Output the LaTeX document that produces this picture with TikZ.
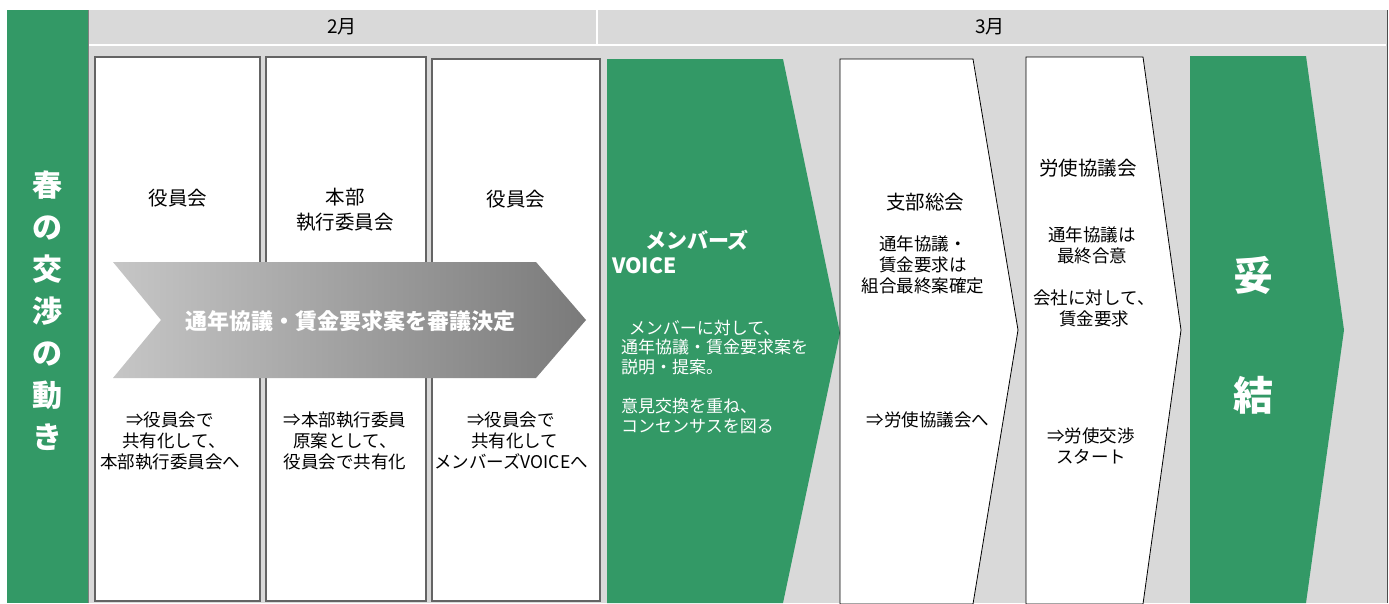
\documentclass[tikz,border=0pt]{standalone}
\usepackage{fontspec}
\setmainfont{Noto Sans CJK JP}
\definecolor{grn}{RGB}{51,153,102}
\definecolor{bgc}{RGB}{217,217,217}
\definecolor{boxline}{RGB}{100,100,100}
\tikzset{
  txt/.style={align=center, inner sep=0pt, font=\fontsize{17.5}{21}\selectfont},
  ttl/.style={align=center, inner sep=0pt, font=\fontsize{19.5}{25}\selectfont},
  wtxt/.style={align=left, inner sep=0pt, text=white, font=\fontsize{17}{19.5}\selectfont},
  mon/.style={inner sep=0pt, font=\fontsize{19}{22}\selectfont},
  colbox/.style={draw=boxline, fill=white, line width=1.2pt},
  chev/.style={draw=black, fill=white, line width=0.8pt},
}
\begin{document}
\begin{tikzpicture}[x=1pt,y=-1pt]
\useasboundingbox (0,0) rectangle (1389,603);
% background
\fill[bgc] (7,10) rectangle (1387,603);
\draw[black!70, line width=1pt] (1387,10) -- (1387,603);
\fill[grn] (7,10) rectangle (88,603);
\draw[black!50, line width=0.6pt] (88,10) -- (88,603);
\draw[white, line width=2pt] (89,45) -- (1386,45);
\draw[white, line width=2.5pt] (597,10) -- (597,45);
\node[mon] (m2) at (342,27) {2月};
\node[mon] (m3) at (990,27) {3月};
% left title
\node[align=center, inner sep=0pt, text=white, font=\fontsize{30}{42}\selectfont\bfseries] (spring) at (47,311) {春\\の\\交\\渉\\の\\動\\き};
% column boxes
\draw[colbox] (95,57) rectangle (260,601);
\draw[colbox] (266,57) rectangle (426,601);
\draw[colbox] (432,59) rectangle (600,601);
% green arrow
\fill[grn] (607,59) -- (783,59) -- (840,333) -- (783,603) -- (607,603) -- cycle;
% white chevrons
\draw[chev] (840,59) -- (973,59) -- (1018,330) -- (973,604) -- (840,604) -- cycle;
\draw[chev] (1026,57) -- (1143,57) -- (1181,330) -- (1143,604) -- (1026,604) -- cycle;
% final green chevron
\fill[grn] (1190,56) -- (1306,56) -- (1344,330) -- (1306,603) -- (1190,603) -- cycle;
% gray big arrow
\shade[left color={rgb,255:red,198;green,198;blue,198}, right color={rgb,255:red,122;green,122;blue,122}]
  (113,262) -- (536,262) -- (586,320) -- (536,378) -- (113,378) -- (161,320) -- cycle;
\node[inner sep=0pt, text=white, font=\fontsize{22}{26}\selectfont\bfseries] (decide) at (350,321) {通年協議・賃金要求案を審議決定};
% column titles
\node[ttl] (c1t) at (178,198) {役員会};
\node[ttl] (c2t) at (345,210) {本部\\執行委員会};
\node[ttl] (c3t) at (516,199) {役員会};
% column bottom texts
\node[txt] (c1b) at (170,441) {⇒役員会で\\\ \ 共有化して、\\本部執行委員会へ};
\node[txt] (c2b) at (345,441) {⇒本部執行委員\\原案として、\\役員会で共有化};
\node[txt] (c3b) at (511,441) {⇒役員会で\\\ \ 共有化して\\メンバーズVOICEへ};
% members voice
\node[inner sep=0pt, text=white, font=\fontsize{21}{24}\selectfont\bfseries] (mv1) at (697,240) {メンバーズ};
\node[inner sep=0pt, anchor=west, text=white, font=\fontsize{21}{24}\selectfont\bfseries] (mv2) at (612,266) {VOICE};
\node[wtxt, anchor=north west] (mvb) at (621,320) {\ \ メンバーに対して、\\通年協議・賃金要求案を\\説明・提案。\\[20pt]意見交換を重ね、\\コンセンサスを図る};
% branch meeting
\node[ttl] (br1) at (925,202) {支部総会};
\node[txt] (br2) at (923,265) {通年協議・\\賃金要求は\\組合最終案確定};
\node[txt] (br3) at (928,420) {⇒労使協議会へ};
% labour-management council
\node[ttl] (lm1) at (1088,168) {労使協議会};
\node[txt] (lm2) at (1092,245) {通年協議は\\最終合意};
\node[txt] (lm3) at (1094,308) {会社に対して、\\賃金要求};
\node[txt] (lm4) at (1091,446) {⇒労使交渉\\スタート};
% settlement
\node[inner sep=0pt, text=white, font=\fontsize{40}{44}\selectfont\bfseries] (d1) at (1253,275) {妥};
\node[inner sep=0pt, text=white, font=\fontsize{40}{44}\selectfont\bfseries] (d2) at (1253,395) {結};
\end{tikzpicture}
\end{document}
